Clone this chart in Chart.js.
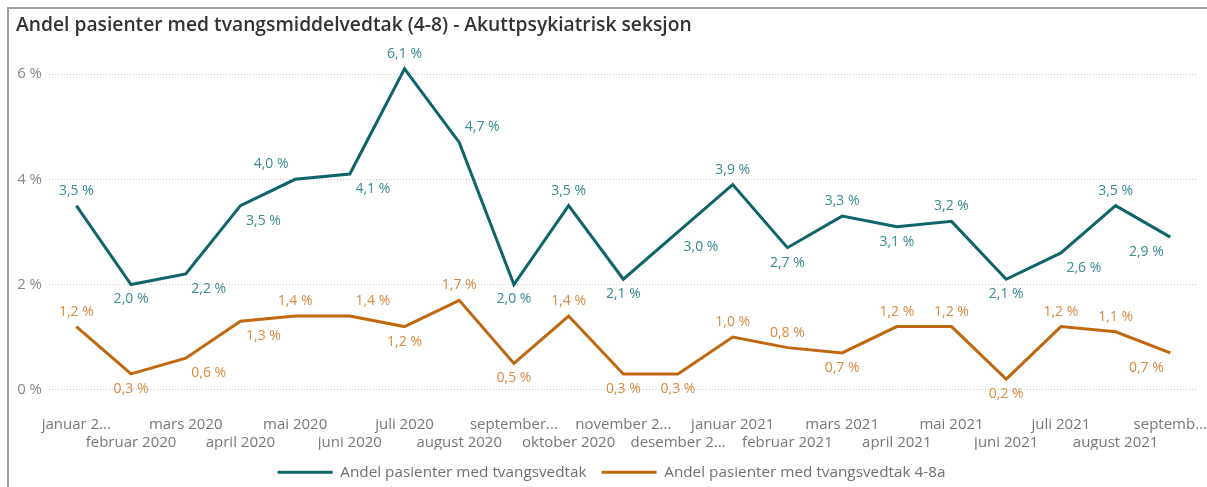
<!DOCTYPE html>
<html>
<head>
<meta charset="utf-8">
<script src="https://cdn.jsdelivr.net/npm/chart.js@4.4.1/dist/chart.umd.min.js"></script>
<style>
  html, body { margin: 0; padding: 0; background: #fff; overflow: hidden; }
  #frame {
    position: absolute; left: 7px; top: 7px; width: 1200px; height: 480px;
    border-left: 2px solid #a0a0a0; border-top: 2px solid #a0a0a0;
    box-sizing: border-box;
  }
  #wrap { position: absolute; left: 9px; top: 9px; width: 1198px; height: 481px; }
</style>
</head>
<body>
<div id="frame"></div>
<div id="wrap"><canvas id="c"></canvas></div>
<script>
// kategorier (måneder)
const months = [
  'januar 2020','februar 2020','mars 2020','april 2020','mai 2020','juni 2020','juli 2020',
  'august 2020','september 2020','oktober 2020','november 2020','desember 2020',
  'januar 2021','februar 2021','mars 2021','april 2021','mai 2021','juni 2021','juli 2021',
  'august 2021','september 2021'
];
// aksetekster slik de vises (avkortet)
const tickLabels = [
  'januar 2...','februar 2020','mars 2020','april 2020','mai 2020','juni 2020','juli 2020',
  'august 2020','september...','oktober 2020','november 2...','desember 2...',
  'januar 2021','februar 2021','mars 2021','april 2021','mai 2021','juni 2021','juli 2021',
  'august 2021','septemb...'
];
const yTicks = [0, 2, 4, 6];

// serier (%)
const tvangsvedtak = [3.5, 2.0, 2.2, 3.5, 4.0, 4.1, 6.1, 4.7, 2.0, 3.5, 2.1, 3.0, 3.9, 2.7, 3.3, 3.1, 3.2, 2.1, 2.6, 3.5, 2.9];
const tvangsvedtak48a = [1.2, 0.3, 0.6, 1.3, 1.4, 1.4, 1.2, 1.7, 0.5, 1.4, 0.3, 0.3, 1.0, 0.8, 0.7, 1.2, 1.2, 0.2, 1.2, 1.1, 0.7];

// plassering av verdietiketter (a=over, b=under, l/r=forskyvning)
const tealPos = ['a','b','br','br','al','br','a','ar','b','a','b','br','a','b','a','b','a','b','br','a','bl'];
const orangePos = ['a','b','br','br','a','ar','b','a','b','a','b','b','a','a','b','a','a','b','a','a','bl'];

const TEAL = '#0e6468';
const ORANGE = '#c0680f';
const FONT = "'Open Sans', sans-serif";

const fmt = v => v.toFixed(1).replace('.', ',') + ' %';

const valueLabels = {
  id: 'valueLabels',
  afterDatasetsDraw(chart) {
    const ctx = chart.ctx;
    ctx.save();
    ctx.font = '14px ' + FONT;
    ctx.textAlign = 'center';
    ctx.textBaseline = 'middle';
    chart.data.datasets.forEach((ds, di) => {
      const meta = chart.getDatasetMeta(di);
      meta.data.forEach((pt, i) => {
        const p = ds.labelPos[i];
        const dy = p[0] === 'a' ? -15 : 15;
        const dx = p[1] === 'r' ? 23 : p[1] === 'l' ? -24 : 0;
        ctx.fillStyle = ds.labelColor;
        ctx.fillText(fmt(ds.data[i]), pt.x + dx, pt.y + dy);
      });
    });
    ctx.restore();
  }
};

new Chart(document.getElementById('c'), {
  type: 'line',
  data: {
    labels: months,
    datasets: [
      { label: 'Andel pasienter med tvangsvedtak', data: tvangsvedtak, borderColor: TEAL, backgroundColor: TEAL,
        borderWidth: 3, pointRadius: 0, tension: 0, clip: false, labelColor: '#3a8a8f', labelPos: tealPos },
      { label: 'Andel pasienter med tvangsvedtak 4-8a', data: tvangsvedtak48a, borderColor: ORANGE, backgroundColor: ORANGE,
        borderWidth: 3, pointRadius: 0, tension: 0, clip: false, labelColor: '#d68a42', labelPos: orangePos }
    ]
  },
  options: {
    responsive: true, maintainAspectRatio: false, animation: false,
    layout: { padding: { left: 7, right: 0, top: 0, bottom: 0 } },
    plugins: {
      title: {
        display: true, align: 'start', color: '#333',
        text: 'Andel pasienter med tvangsmiddelvedtak (4-8) - Akuttpsykiatrisk seksjon',
        font: { family: FONT, size: 19.25, weight: '600', lineHeight: 1.2 },
        padding: { top: 5, bottom: 37 }
      },
      legend: {
        position: 'bottom',
        labels: {
          usePointStyle: true, pointStyle: 'line', pointStyleWidth: 55,
          color: '#707070', font: { family: FONT, size: 15.3 }, padding: 15
        }
      },
      tooltip: { enabled: false }
    },
    scales: {
      x: {
        offset: true,
        grid: { display: false },
        border: { display: false },
        afterFit: axis => { axis.height -= 2; },
        ticks: {
          autoSkip: false, maxRotation: 0, minRotation: 0, color: '#777', padding: 0,
          font: { family: FONT, size: 15, lineHeight: 1.2 },
          callback: (v, i) => i % 2 === 0 ? ['', tickLabels[i], ''] : ['', '', tickLabels[i]]
        }
      },
      y: {
        min: 0, max: 6,
        afterBuildTicks: axis => { axis.ticks = yTicks.map(v => ({ value: v })); },
        afterFit: axis => { axis.width = 33; },
        grid: { color: '#c8c8c8', drawTicks: false, tickLength: 0 },
        border: { display: false, dash: [1, 2] },
        ticks: {
          color: '#888', padding: 7,
          font: { family: FONT, size: 15 },
          callback: v => v + ' %'
        }
      }
    }
  },
  plugins: [valueLabels]
});
</script>
</body>
</html>
